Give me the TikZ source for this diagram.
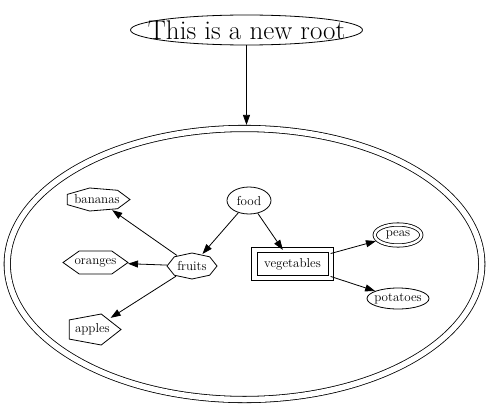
\documentclass[tikz,border=0pt]{standalone}
\usetikzlibrary{shapes.geometric,arrows.meta}
\begin{document}
\begin{tikzpicture}[x=1pt,y=-1pt,
  lbl/.style={font=\fontsize{13}{15}\selectfont, inner sep=0pt},
  edge/.style={line width=0.8pt, -{Triangle[length=10pt,width=7pt]}},
  shp/.style={line width=0.8pt},
  anch/.style={ellipse, inner sep=0pt},
  ellnode/.style={ellipse, draw, line width=0.8pt, inner sep=0pt}]
\useasboundingbox (0,0) rectangle (486,404);

% root
\node[ellnode, minimum width=232pt, minimum height=30pt,
  label={[inner sep=0pt, font=\fontsize{27}{31}\selectfont]center:This is a new root}] (root) at (246.5,30) {};

% big double ellipse
\node[ellipse, draw, line width=0.8pt, double, double distance=5.5pt, inner sep=0pt,
  minimum width=474.5pt, minimum height=271pt, outer sep=3.6pt] (sub) at (244.5,264) {};

% inner nodes
\node[ellnode, minimum width=44pt, minimum height=27pt, label={[lbl]center:food}] (food) at (249,200.5) {};
\node[anch, minimum width=50pt, minimum height=26pt, label={[lbl]center:fruits}] (fruits) at (192,266) {};
\node[anch, minimum width=66pt, minimum height=23.6pt, label={[lbl]center:bananas}] (bananas) at (97,199.5) {};
\node[anch, minimum width=65pt, minimum height=23pt, label={[lbl]center:oranges}] (oranges) at (95.5,262.5) {};
\node[anch, minimum width=54pt, minimum height=31pt, label={[lbl]center:apples}] (apples) at (92.4,329.5) {};
\node[draw, rectangle, line width=0.8pt, inner sep=0pt,
  minimum width=71pt, minimum height=23pt, font=\fontsize{13}{15}\selectfont, outer sep=2.6pt] (vegetables) at (292.5,264) {vegetables};
\draw[shp] ([shift={(-3pt,-2.2pt)}]vegetables.south west) rectangle ([shift={(3pt,2.2pt)}]vegetables.north east);
\node[ellnode, double, double distance=2.5pt, minimum width=46.6pt, minimum height=21pt, outer sep=2pt,
  label={[lbl]center:peas}] (peas) at (398,235) {};
\node[ellnode, minimum width=62pt, minimum height=21pt, label={[lbl]center:potatoes}] (potatoes) at (398,298.5) {};

% polygon outlines
\draw[shp, shift={(fruits.center)}] (0:25pt and 13pt)
  \foreach \a in {45,90,...,315}{ -- (\a:25pt and 13pt)} -- cycle;
\draw[shp, shift={(bananas.center)}] (0:33pt and 11.8pt)
  \foreach \a in {51.43,102.86,154.29,205.71,257.14,308.57}{ -- (\a:33pt and 11.8pt)} -- cycle;
\draw[shp, shift={(oranges.center)}] (0:32.5pt and 13.3pt)
  \foreach \a in {60,120,...,300}{ -- (\a:32.5pt and 13.3pt)} -- cycle;
\draw[shp, shift={(apples.center)}] (0:28.6pt and 16.3pt)
  \foreach \a in {72,144,216,288}{ -- (\a:28.6pt and 16.3pt)} -- cycle;

% edges
\draw[edge] (root.south) -- (sub.north -| root.south);
\draw[edge] (food) -- (fruits);
\draw[edge] (food) -- (vegetables);
\draw[edge] (fruits) -- (bananas);
\draw[edge] (fruits) -- (oranges);
\draw[edge] (fruits) -- (apples);
\draw[edge] (vegetables) -- (peas);
\draw[edge] (vegetables) -- (potatoes);
\end{tikzpicture}
\end{document}
